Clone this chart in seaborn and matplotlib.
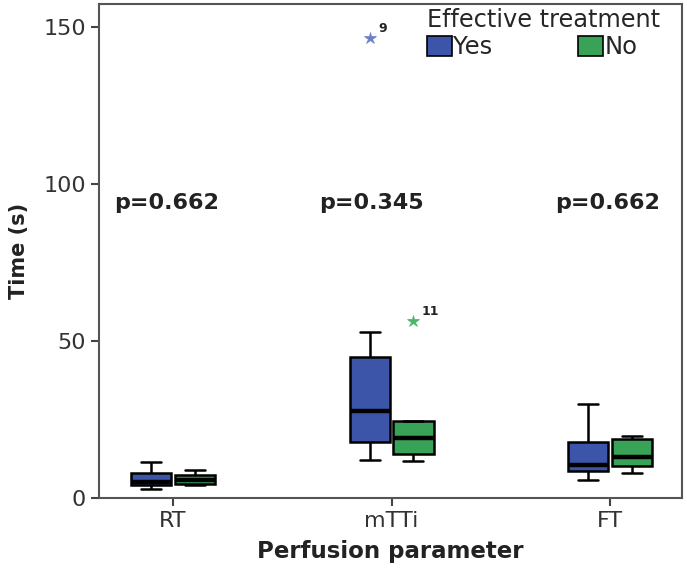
import pandas as pd
import matplotlib
matplotlib.use("Agg")
import matplotlib.pyplot as plt
import seaborn as sns

### DATOS ###
params = ["RT", "mTTi", "FT"]
groups = ["Yes", "No"]
rt_yes = [2.9, 4.1, 5.1, 8.0, 11.5]
rt_no = [4.1, 4.5, 5.9, 7.5, 8.9]
mtti_yes = [12.3, 15.0, 17.9, 22.0, 27.8, 36.0, 44.8, 53.0, 146.5]
mtti_no = [12.0, 13.0, 14.2, 17.0, 19.2, 22.0, 24.5, 24.5, 56.5]
ft_yes = [5.7, 8.7, 10.7, 17.9, 29.9]
ft_no = [8.1, 10.4, 13.2, 18.7, 19.7]
p_values = ["p=0.662", "p=0.345", "p=0.662"]
outlier_ids = {"Yes": "9", "No": "11"}

colores = {"Yes": "#3d55a8", "No": "#38a357"}
colores_outlier = {"Yes": "#6a7fc6", "No": "#4cb36b"}

### TABLA LARGA ###
filas = []
for p, g, vals in [("RT", "Yes", rt_yes), ("RT", "No", rt_no),
                   ("mTTi", "Yes", mtti_yes), ("mTTi", "No", mtti_no),
                   ("FT", "Yes", ft_yes), ("FT", "No", ft_no)]:
    for v in vals:
        filas.append({"param": p, "group": g, "time": v})
df = pd.DataFrame(filas)

### GRAFICO ###
sns.set_style("ticks")
plt.rcParams["font.family"] = ["DejaVu Sans"]

fig = plt.figure(figsize=(6.87, 5.8), dpi=100)
ax = fig.add_axes([0.144, 0.141, 0.849, 0.852])

sns.boxplot(data=df, x="param", y="time", hue="group", order=params,
            hue_order=groups, palette=colores, saturation=1, width=0.4,
            gap=0.08, linecolor="black", linewidth=1.8,
            medianprops=dict(linewidth=3.2, color="black"),
            flierprops=dict(marker="*", markersize=9), ax=ax)

# colorear los outliers y poner el numero de caso
for line in ax.lines:
    xd = line.get_xdata()
    if line.get_marker() == "*" and len(xd) > 0:
        g = "Yes" if xd[0] < round(xd[0]) else "No"
        line.set_markerfacecolor(colores_outlier[g])
        line.set_markeredgecolor(colores_outlier[g])
        line.set_markeredgewidth(0.5)
        ax.annotate(outlier_ids[g], (xd[0], line.get_ydata()[0]),
                    xytext=(6, 4), textcoords="offset points",
                    fontsize=9, fontweight="bold", color="#222222")

# p valores
desplaz = [-0.03, -0.09, -0.01]
for i, txt in enumerate(p_values):
    ax.text(i + desplaz[i], 94, txt, ha="center", va="center",
            fontsize=16, fontweight="bold", color="#222222")

ax.set_xlim(-0.339, 2.33)
ax.set_ylim(0, 157.3)
ax.set_yticks([0, 50, 100, 150])
ax.set_xlabel("Perfusion parameter", fontsize=16.5, fontweight="bold",
              color="#222222", labelpad=6)
ax.set_ylabel("Time (s)", fontsize=15, fontweight="bold",
              color="#222222", labelpad=10)
ax.tick_params(axis="both", labelsize=16, length=6, width=1.5,
               color="#444444", labelcolor="#333333")
for s in ax.spines.values():
    s.set_color("#555555")
    s.set_linewidth(1.5)

leg = ax.legend(title="Effective treatment", ncol=2, loc="upper left",
                bbox_to_anchor=(0.537, 1.022), frameon=False, fontsize=17.5,
                title_fontsize=17.3, handlelength=1.05, handleheight=0.85,
                handletextpad=0.05, columnspacing=3.5, borderpad=0.1,
                labelspacing=0.15, alignment="left")
for h in leg.legend_handles:
    h.set_edgecolor("black")
    h.set_linewidth(1.2)

fig.savefig("out.png", dpi=100)
